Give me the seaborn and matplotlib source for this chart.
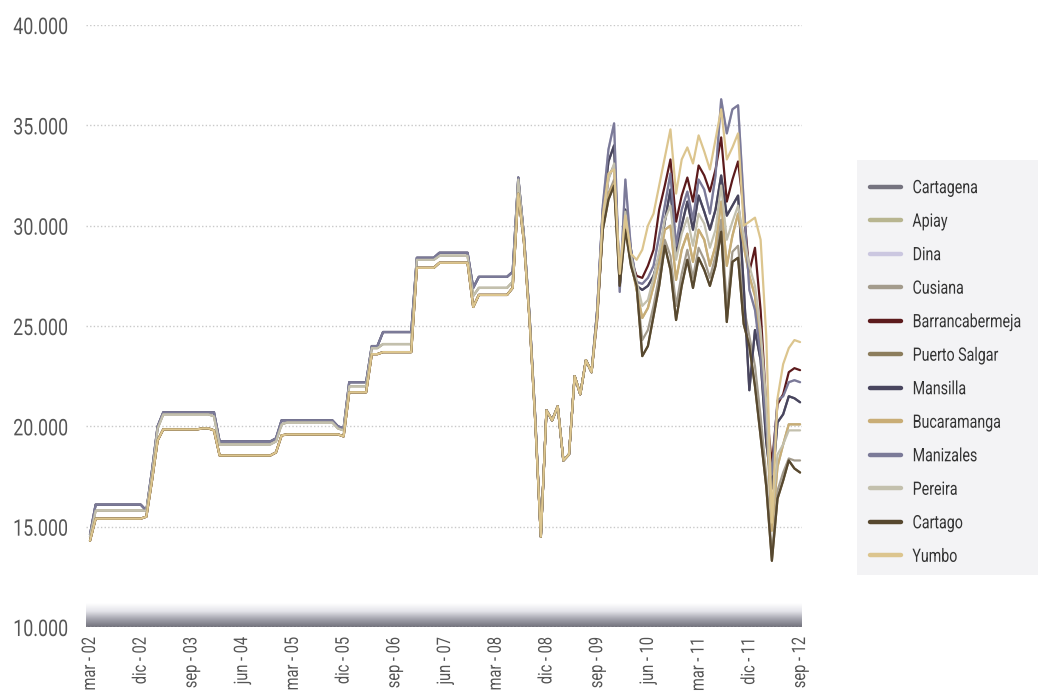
import numpy as np
import pandas as pd
import matplotlib
matplotlib.use("Agg")
import matplotlib.pyplot as plt
from matplotlib.colors import LinearSegmentedColormap
from matplotlib.patches import Rectangle
from matplotlib.patheffects import AbstractPathEffect
from matplotlib.transforms import Affine2D
import seaborn as sns

# months from mar-02 to sep-12 (index 0..126)
tick_pos = list(range(0, 127, 9))
tick_labels = ["mar - 02", "dic - 02", "sep - 03", "jun - 04", "mar - 05", "dic - 05",
               "sep - 06", "jun - 07", "mar - 08", "dic - 08", "sep - 09", "jun - 10",
               "mar - 11", "dic - 11", "sep - 12"]
y_ticks = [10000, 15000, 20000, 25000, 30000, 35000, 40000]
y_labels = ["10.000", "15.000", "20.000", "25.000", "30.000", "35.000", "40.000"]

plantas = ["Cartagena", "Apiay", "Dina", "Cusiana", "Barrancabermeja", "Puerto Salgar",
           "Mansilla", "Bucaramanga", "Manizales", "Pereira", "Cartago", "Yumbo"]
colores = ["#75737f", "#b8b590", "#cbc7e0", "#a39b8c", "#5c1a1c", "#8c7d5c",
           "#48455e", "#c9ad76", "#7b7a98", "#c3c0ad", "#57482f", "#dcc58e"]

# mar-02 .. oct-08 (80 months), three price levels
early_upper = [14600, 16100, 16100, 16100, 16100, 16100, 16100, 16100, 16100, 16100,
               15800, 17800, 20000, 20700, 20700, 20700, 20700, 20700, 20700, 20700,
               20700, 20700, 20700, 19250, 19250, 19250, 19250, 19250, 19250, 19250,
               19250, 19250, 19250, 19400, 20300, 20300, 20300, 20300, 20300, 20300,
               20300, 20300, 20300, 20300, 20000, 19900, 22200, 22200, 22200, 22200,
               24000, 24000, 24700, 24700, 24700, 24700, 24700, 24700, 28400, 28400,
               28400, 28400, 28650, 28650, 28650, 28650, 28650, 28650, 26900, 27450,
               27450, 27450, 27450, 27450, 27450, 27700, 32400, 29500, 25500, 20500]
early_mid = [14500, 15800, 15800, 15800, 15800, 15800, 15800, 15800, 15800, 15800,
             15800, 17600, 19900, 20600, 20600, 20600, 20600, 20600, 20600, 20600,
             20600, 20600, 20500, 19100, 19100, 19100, 19100, 19100, 19100, 19100,
             19100, 19100, 19100, 19250, 20100, 20200, 20200, 20200, 20200, 20200,
             20200, 20200, 20200, 20200, 19900, 19800, 22000, 22000, 22000, 22000,
             23900, 23900, 24100, 24100, 24100, 24100, 24100, 24100, 28300, 28300,
             28300, 28300, 28500, 28500, 28500, 28500, 28500, 28500, 26500, 26900,
             26900, 26900, 26900, 26900, 26900, 27200, 32300, 29400, 25400, 20400]
early_lower = [14300, 15400, 15400, 15400, 15400, 15400, 15400, 15400, 15400, 15400,
               15500, 17300, 19300, 19850, 19850, 19850, 19850, 19850, 19850, 19850,
               19900, 19900, 19800, 18550, 18550, 18550, 18550, 18550, 18550, 18550,
               18550, 18550, 18550, 18700, 19550, 19600, 19600, 19600, 19600, 19600,
               19600, 19600, 19600, 19600, 19600, 19500, 21700, 21700, 21700, 21700,
               23600, 23600, 23700, 23700, 23700, 23700, 23700, 23700, 27900, 27900,
               27900, 27900, 28150, 28150, 28150, 28150, 28150, 28150, 25950, 26550,
               26550, 26550, 26550, 26550, 26550, 26900, 31600, 29200, 25300, 20300]
# nov-08 .. ago-09, common to all
crisis = [14500, 20800, 20300, 21000, 18300, 18600, 22500, 21600, 23300, 22700]

# sep-09 .. sep-12 (37 months)
late_yumbo = [25500, 30500, 32600, 32800, 27600, 30500, 28600, 28300, 28800, 30000,
              30600, 32000, 33400, 34800, 31600, 33300, 33900, 33100, 34500, 33700,
              32800, 34300, 35800, 33300, 33900, 34600, 30000, 30200, 30400, 29300,
              24500, 15200, 21400, 23100, 23900, 24300, 24200]
late_barranca = [25300, 30000, 32400, 33000, 27300, 30300, 28300, 27500, 27400, 28000,
                 28800, 30800, 32000, 33300, 30200, 31500, 32400, 31200, 33000, 32500,
                 31700, 32800, 34400, 31200, 32300, 33200, 30800, 27700, 28900, 25800,
                 21000, 18100, 21100, 21600, 22700, 22900, 22800]
late_manizales = [25800, 31000, 33800, 35100, 26700, 32300, 28800, 27200, 27100, 27400,
                  28000, 29500, 31000, 32600, 29000, 30800, 31700, 30300, 32300, 31800,
                  30600, 32500, 36300, 34600, 35800, 36000, 31200, 26800, 25800, 23500,
                  20000, 17600, 21300, 21500, 22200, 22300, 22200]
late_cartagena = [25800, 30800, 33200, 34000, 27000, 30800, 28800, 27000, 26800, 27000,
                  27500, 28500, 30200, 31800, 28600, 30000, 31200, 29800, 31500, 30700,
                  29800, 30800, 32500, 30500, 31000, 31500, 27000, 21800, 24800, 23300,
                  19200, 16900, 20200, 20600, 21500, 21400, 21200]
late_bucaramanga = [25500, 30000, 31600, 32100, 27500, 30000, 28200, 26800, 25400, 25900,
                    27000, 28200, 29800, 30000, 27300, 28800, 29600, 28200, 29800, 29300,
                    28000, 29000, 31200, 28000, 29500, 30600, 29000, 27500, 26500, 24000,
                    20500, 14800, 18000, 19100, 20100, 20100, 20100]
late_pereira = [25500, 30300, 32300, 33100, 27300, 30700, 28500, 27200, 26000, 26300,
                27400, 28700, 30300, 31000, 28300, 29600, 30400, 29000, 30600, 30100,
                28900, 29800, 32000, 29300, 30200, 31000, 29500, 28000, 27000, 24800,
                21200, 15500, 18600, 19100, 19800, 19800, 19800]
late_cartago = [25500, 29800, 31300, 32000, 27000, 29800, 28000, 27000, 23500, 24000,
                25500, 27000, 29000, 27800, 25300, 27000, 28300, 26900, 28400, 27800,
                27000, 28000, 29700, 25200, 28200, 28400, 25100, 24000, 22000, 19500,
                17000, 13300, 16400, 17300, 18300, 17900, 17700]
late_cusiana = [25500, 30000, 31600, 32300, 27200, 30000, 28100, 27000, 24300, 24800,
                26000, 27500, 29300, 28500, 26000, 27600, 28800, 27400, 28900, 28300,
                27400, 28500, 30300, 26000, 28700, 29000, 26000, 24500, 23000, 20500,
                17500, 13600, 16800, 17700, 18400, 18300, 18300]

series = {
    "Cartagena": early_upper + crisis + late_cartagena,
    "Apiay": early_mid + crisis + late_bucaramanga,
    "Dina": early_upper + crisis + late_manizales,
    "Cusiana": early_mid + crisis + late_cusiana,
    "Barrancabermeja": early_lower + crisis + late_barranca,
    "Puerto Salgar": early_lower + crisis + late_cartago,
    "Mansilla": early_upper + crisis + late_cartagena,
    "Bucaramanga": early_lower + crisis + late_bucaramanga,
    "Manizales": early_upper + crisis + late_manizales,
    "Pereira": early_mid + crisis + late_pereira,
    "Cartago": early_lower + crisis + late_cartago,
    "Yumbo": early_lower + crisis + late_yumbo,
}

df = pd.DataFrame(series)
df["mes"] = range(len(df))
df = df.melt(id_vars="mes", var_name="planta", value_name="precio")


class Squeeze(AbstractPathEffect):
    """draw text narrower (condensed look), keeping one end fixed"""
    def __init__(self, sx=0.76, keep="right"):
        super().__init__()
        self.sx = sx
        self.keep = keep

    def draw_path(self, renderer, gc, tpath, affine, rgbFace=None):
        ext = tpath.get_extents()
        x0 = ext.x1 if self.keep == "right" else ext.x0
        t = Affine2D().translate(-x0, 0).scale(self.sx, 1).translate(x0, 0)
        renderer.draw_path(gc, tpath, t + affine, rgbFace)


sns.set_style("white")
plt.rcParams["font.family"] = ["Roboto", "DejaVu Sans"]

fig = plt.figure(figsize=(10.38, 6.97), dpi=100)
ax = fig.add_axes([0.0829, 0.1004, 0.6895, 0.8637])

# grey band at the bottom of the plot
cmap = LinearSegmentedColormap.from_list("banda", ["#ffffff", "#e4e4ea", "#a4a4ae", "#72727c"])
grad = np.linspace(1, 0, 60).reshape(-1, 1)
ax.imshow(grad, extent=(-0.7, 126.3, 10000, 11150), aspect="auto", cmap=cmap,
          origin="lower", zorder=0.5)

sns.lineplot(data=df, x="mes", y="precio", hue="planta", hue_order=plantas,
             palette=dict(zip(plantas, colores)), lw=1.6, ax=ax, legend=True)

ax.set_xlim(-0.7, 126.3)
ax.set_ylim(10000, 40000)
ax.set_yticks(y_ticks)
ax.set_yticklabels(y_labels)
ax.set_xticks(tick_pos)
ax.set_xticklabels(tick_labels, rotation=90)
ax.set_xlabel("")
ax.set_ylabel("")
ax.tick_params(axis="y", length=0, pad=13, labelsize=16.5, labelcolor="#555555")
ax.tick_params(axis="x", length=0, pad=7, labelsize=13.5, labelcolor="#555555")
for lab in ax.get_yticklabels():
    lab.set_path_effects([Squeeze(0.78, "right")])
for lab in ax.get_xticklabels():
    lab.set_path_effects([Squeeze(0.78, "right")])
for s in ax.spines.values():
    s.set_visible(False)
ax.yaxis.grid(True, linestyle=(0, (1, 1.6)), color="#c9c9c9", lw=1)
ax.set_axisbelow(True)

handles, labels = ax.get_legend_handles_labels()
ax.get_legend().remove()
for h in handles:
    h.set_linewidth(3.2)

fig.patches.append(Rectangle((0.8256, 0.175), 0.1744, 0.595, transform=fig.transFigure,
                             facecolor="#f3f3f5", edgecolor="none", zorder=0))
leg = fig.legend(handles, labels, loc="center left", bbox_to_anchor=(0.838, 0.4656),
                 frameon=False, fontsize=13.3, handlelength=1.7, handletextpad=0.6,
                 labelspacing=0.84, borderpad=0, borderaxespad=0, labelcolor="#333333")
for t in leg.get_texts():
    t.set_path_effects([Squeeze(0.77, "left")])

fig.savefig("out.png", dpi=100)
